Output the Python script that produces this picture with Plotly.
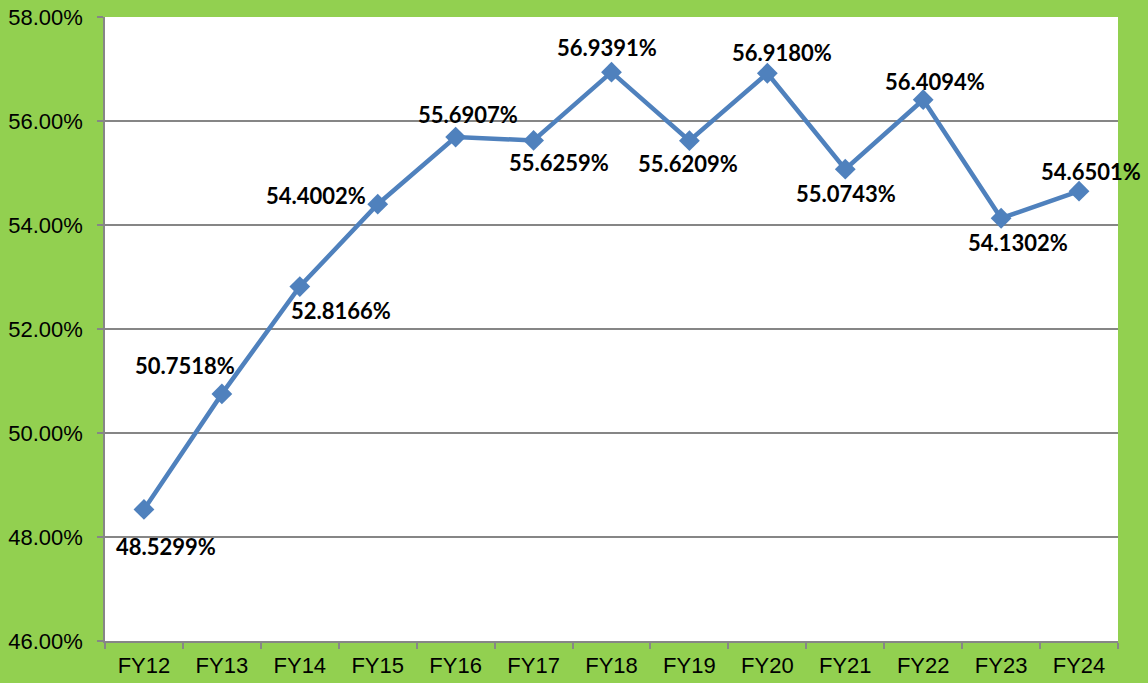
import plotly.graph_objects as go

categories = ["FY12", "FY13", "FY14", "FY15", "FY16", "FY17", "FY18",
              "FY19", "FY20", "FY21", "FY22", "FY23", "FY24"]
values = [48.5299, 50.7518, 52.8166, 54.4002, 55.6907, 55.6259, 56.9391,
          55.6209, 56.9180, 55.0743, 56.4094, 54.1302, 54.6501]
y_ticks = [46, 48, 50, 52, 54, 56, 58]

# label pixel offsets (dx, dy) relative to each marker
label_offsets = [(22, -37), (-37, 28), (41, -24), (-62, 9), (12, 23), (25, -22),
                 (-5, 25), (-1, -23), (15, 21), (1, -24), (12, 18), (17, -24), (12, 20)]

fig = go.Figure()
fig.add_trace(go.Scatter(
    x=categories, y=values, mode="lines+markers",
    line=dict(color="#4F81BD", width=4.5),
    marker=dict(symbol="diamond", size=16, color="#4F81BD"),
    hoverinfo="x+y", showlegend=False,
))

for c, v, (dx, dy) in zip(categories, values, label_offsets):
    fig.add_annotation(
        x=c, y=v, xref="x", yref="y", text=f"{v:.4f}%", showarrow=False,
        xshift=dx, yshift=dy,
        font=dict(family="Lato, Open Sans, sans-serif", size=22, color="#000000", weight="bold"),
    )

fig.update_layout(
    width=1148, height=683,
    paper_bgcolor="#92D050", plot_bgcolor="#FFFFFF",
    margin=dict(l=105, r=30, t=17, b=42),
    font=dict(family="Liberation Sans, Arial, sans-serif", size=22, color="#000000"),
)
fig.update_xaxes(
    type="category", range=[-0.5, len(categories) - 0.5],
    tickson="boundaries", ticks="outside", ticklen=6,
    tickcolor="#868686", tickwidth=1.5, automargin=False, ticklabelstandoff=4,
    showline=True, linecolor="#868686", linewidth=1.5,
    showgrid=False, tickfont=dict(size=22),
)
fig.update_yaxes(
    range=[46, 58], tickvals=y_ticks, ticktext=[f"{t:.2f}%" for t in y_ticks],
    ticks="outside", ticklen=6, tickcolor="#868686", tickwidth=1.5,
    automargin=False, ticklabelstandoff=10,
    showline=True, linecolor="#868686", linewidth=1.5,
    showgrid=True, gridcolor="#868686", gridwidth=1.5, zeroline=False,
    tickfont=dict(size=22),
)

fig.write_html("out.html", config={"displayModeBar": False},
               post_script="document.body.style.margin='0';document.body.style.overflow='hidden';")
